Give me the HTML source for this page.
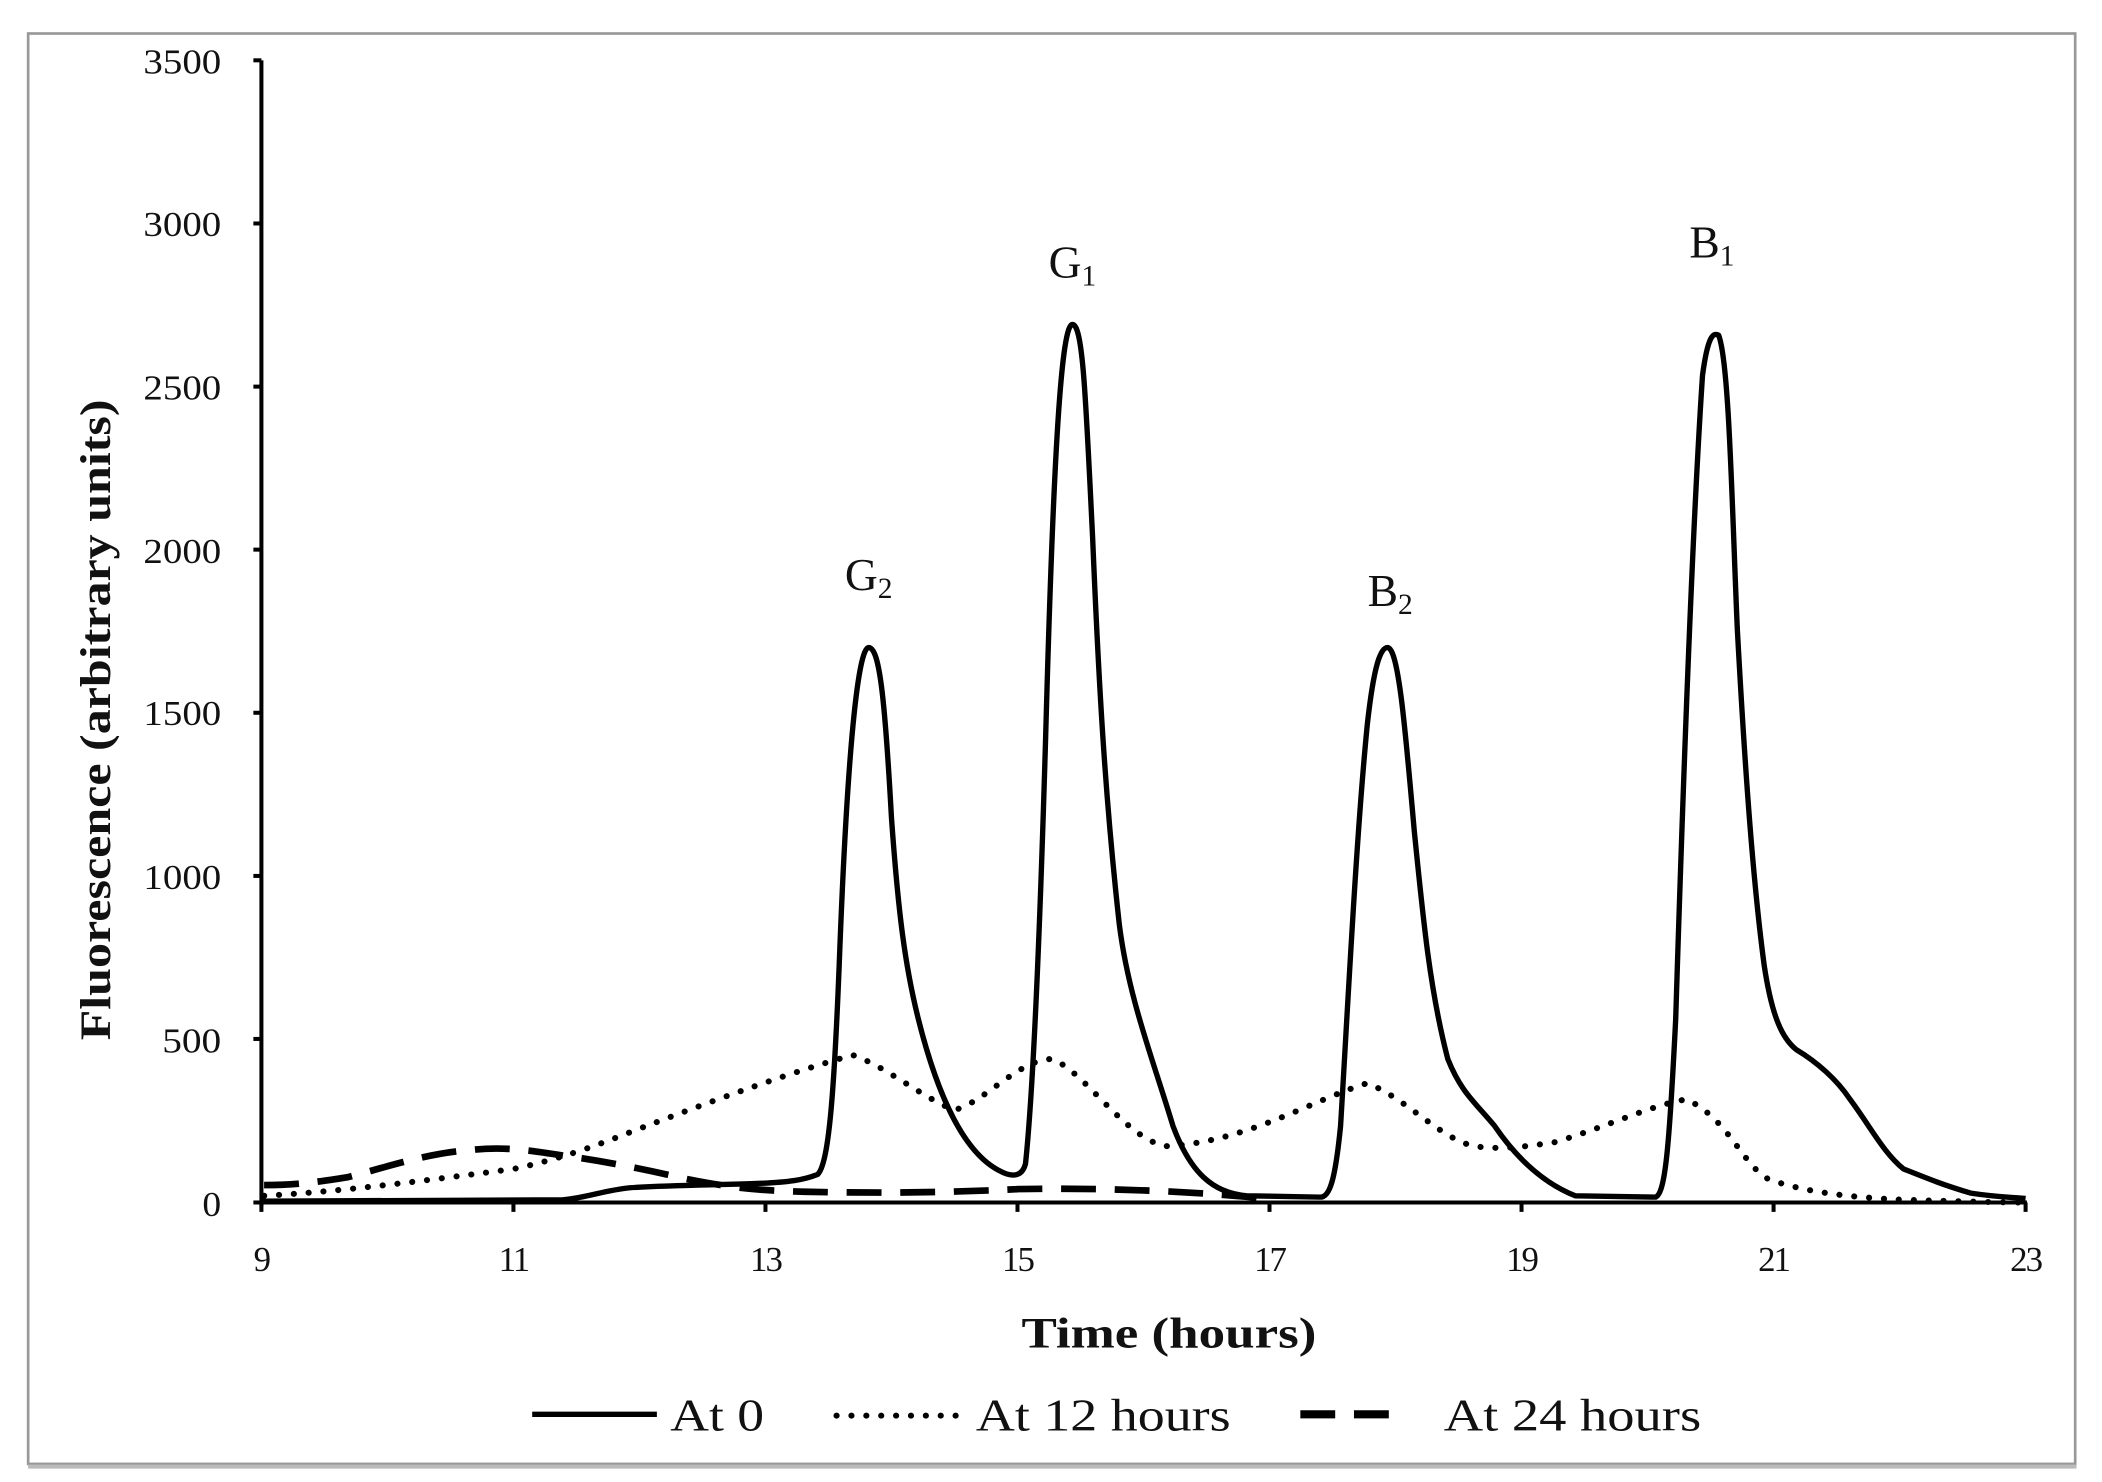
<!DOCTYPE html>
<html><head><meta charset="utf-8"><style>
html,body{margin:0;padding:0;background:#fff;}
svg{display:block;}
text{font-family:"Liberation Serif",serif;fill:#111;}
</style></head><body>
<svg width="2102" height="1482" viewBox="0 0 1568 1105.5" preserveAspectRatio="none">
<rect x="0" y="0" width="1568" height="1106" fill="#fff"/>
<rect x="21" y="25" width="1527" height="1067" fill="none" stroke="#999" stroke-width="2"/>
<line x1="21" y1="1094" x2="1549" y2="1094" stroke="#bbb" stroke-width="3"/>
<!-- axes -->
<line x1="195" y1="45" x2="195" y2="900" stroke="#000" stroke-width="3"/>
<line x1="190" y1="897" x2="1512" y2="897" stroke="#000" stroke-width="3"/>
<g stroke="#000" stroke-width="3">
<line x1="189" y1="45" x2="195" y2="45"/><line x1="189" y1="166.7" x2="195" y2="166.7"/><line x1="189" y1="288.4" x2="195" y2="288.4"/><line x1="189" y1="410" x2="195" y2="410"/><line x1="189" y1="531.7" x2="195" y2="531.7"/><line x1="189" y1="653.4" x2="195" y2="653.4"/><line x1="189" y1="775" x2="195" y2="775"/><line x1="189" y1="897" x2="195" y2="897"/>
<line x1="195" y1="897" x2="195" y2="904"/><line x1="383" y1="897" x2="383" y2="904"/><line x1="571" y1="897" x2="571" y2="904"/><line x1="759" y1="897" x2="759" y2="904"/><line x1="947" y1="897" x2="947" y2="904"/><line x1="1135" y1="897" x2="1135" y2="904"/><line x1="1323" y1="897" x2="1323" y2="904"/><line x1="1511" y1="897" x2="1511" y2="904"/>
</g>
<g font-size="26">
<text x="107" y="55" textLength="58" lengthAdjust="spacingAndGlyphs">3500</text>
<text x="107" y="176" textLength="58" lengthAdjust="spacingAndGlyphs">3000</text>
<text x="107" y="298" textLength="58" lengthAdjust="spacingAndGlyphs">2500</text>
<text x="107" y="420" textLength="58" lengthAdjust="spacingAndGlyphs">2000</text>
<text x="107" y="541" textLength="58" lengthAdjust="spacingAndGlyphs">1500</text>
<text x="107" y="663" textLength="58" lengthAdjust="spacingAndGlyphs">1000</text>
<text x="121" y="785" textLength="44" lengthAdjust="spacingAndGlyphs">500</text>
<text x="151" y="907" textLength="14" lengthAdjust="spacingAndGlyphs">0</text>
</g>
<g font-size="26" text-anchor="middle" style="letter-spacing:-1.5px">
<text x="195" y="948">9</text><text x="383" y="948">11</text><text x="571" y="948">13</text><text x="759" y="948">15</text><text x="947" y="948">17</text><text x="1135" y="948">19</text><text x="1323" y="948">21</text><text x="1511" y="948">23</text>
</g>
<text x="762" y="1005" font-size="32" font-weight="bold" textLength="220" lengthAdjust="spacingAndGlyphs">Time (hours)</text>
<text transform="translate(82,776) rotate(-90)" font-size="32" font-weight="bold" textLength="478" lengthAdjust="spacingAndGlyphs">Fluorescence (arbitrary units)</text>
<!-- peak labels -->
<g font-size="34" text-anchor="middle">
<text x="648" y="440">G<tspan font-size="22" dy="6">2</tspan></text>
<text x="800" y="207">G<tspan font-size="22" dy="6">1</tspan></text>
<text x="1037" y="452">B<tspan font-size="22" dy="6">2</tspan></text>
<text x="1277" y="192">B<tspan font-size="22" dy="6">1</tspan></text>
</g>
<!-- dashed -->
<path d="M197,884 C220,884 235,882 260,878 C290,870 320,860 350,858 C375,855 395,858 420,862 C450,866 480,872 510,879 C540,885 560,888 600,889 C650,890 700,890 760,887 C820,886 880,888 945,894" fill="none" stroke="#000" stroke-width="5" stroke-dasharray="26,14"/>
<!-- dotted -->
<path d="M197,892 C250,889 300,883 383,872 C430,862 460,848 490,837 C540,818 590,800 636,787 C660,795 690,820 712,828 C735,822 760,790 785,790 C810,800 840,850 870,855 C930,852 980,820 1020,808 C1050,820 1075,850 1100,855 C1120,858 1140,855 1160,852 C1200,840 1230,825 1258,820 C1290,835 1300,870 1320,880 C1350,890 1380,893 1420,895 C1460,896 1490,897 1511,897" fill="none" stroke="#000" stroke-width="4.5" stroke-dasharray="0.1,11" stroke-linecap="round"/>
<!-- solid -->
<path d="M195,896 L420,895 C440,893 450,888 470,886 C500,884 530,884 560,883 C590,882 600,880 610,876 C618,868 622,820 626,720 C632,560 640,483 648,483 C656,483 660,520 665,610 C670,680 675,720 685,760 C700,820 720,860 745,873 C752,877 762,880 765,868 C770,820 775,720 780,550 C786,330 792,242 800,242 C808,242 810,300 815,400 C820,520 825,600 835,690 C842,745 860,790 875,840 C888,875 905,890 930,892 L985,893 C992,893 996,880 1000,840 C1006,740 1012,620 1020,540 C1025,495 1030,483 1035,483 C1043,483 1048,540 1055,620 C1062,690 1067,740 1080,790 C1090,815 1100,822 1115,840 C1130,862 1150,882 1175,892 L1235,893 C1242,890 1245,860 1250,760 C1255,600 1262,400 1270,280 C1274,250 1278,248 1282,250 C1290,270 1292,380 1296,470 C1302,580 1308,660 1316,720 C1322,760 1330,775 1340,783 C1355,792 1370,805 1380,820 C1395,840 1405,860 1420,872 C1440,880 1450,884 1470,890 C1490,893 1500,893 1511,894" fill="none" stroke="#000" stroke-width="4" stroke-linejoin="round"/>
<!-- legend -->
<line x1="397" y1="1055" x2="490" y2="1055" stroke="#000" stroke-width="4"/>
<text x="500" y="1067" font-size="34" textLength="70" lengthAdjust="spacingAndGlyphs">At 0</text>
<line x1="624" y1="1056" x2="714" y2="1056" stroke="#000" stroke-width="4.5" stroke-dasharray="0.1,11" stroke-linecap="round"/>
<text x="728" y="1067" font-size="34" textLength="190" lengthAdjust="spacingAndGlyphs">At 12 hours</text>
<line x1="970" y1="1055" x2="1048" y2="1055" stroke="#000" stroke-width="6" stroke-dasharray="26,14"/>
<text x="1077" y="1067" font-size="34" textLength="192" lengthAdjust="spacingAndGlyphs">At 24 hours</text>
</svg>
</body></html>
